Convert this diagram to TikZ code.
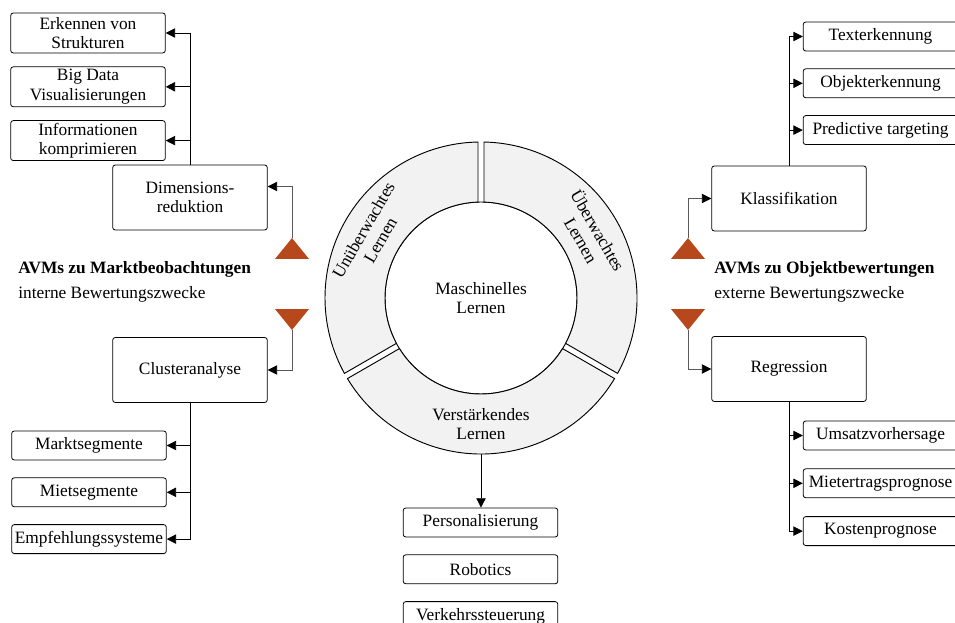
\documentclass[tikz,border=0pt]{standalone}
\usepackage{fontspec}
\setmainfont{Liberation Serif}
\usetikzlibrary{positioning}
\usetikzlibrary{arrows.meta}
\usetikzlibrary{calc}
\definecolor{avmorange}{RGB}{183,72,27}
\definecolor{ringgray}{RGB}{242,242,242}

\tikzset{
  box/.style={draw, rounded corners=2pt, line width=0.6pt, minimum width=116pt,
    inner xsep=1pt, inner ysep=0.5pt, align=center},
  bigbox/.style={box, minimum height=48.75pt},
  twobox/.style={box, minimum height=30pt},
  onebox/.style={box, minimum height=21.75pt},
  arr/.style={-{Triangle[length=7pt,width=7pt,color=black]}, line width=0.6pt},
  feed/.style={arr, draw=black!65},
  ring/.style={draw, fill=ringgray, line width=0.7pt},
  tri/.style={fill=avmorange},
}

\begin{document}
\begin{tikzpicture}[x=0.75pt, y=0.75pt, font=\fontsize{13}{14.5}\selectfont]
  \useasboundingbox (0,0) rectangle (955,-623);
  \def\rout{117pt}
  \def\rin{72pt}

  % Define nodes
  \node[circle, draw, line width=0.7pt, minimum size=144pt, align=center] (ml) at (481,-298) {Maschinelles\\Lernen};

  % ring parts with white gaps
  \foreach \a/\b in {90/210, 210/330, -30/90} {
    \draw[ring] ([shift={(ml.center)}]\a+1.1:\rout) arc[start angle=\a+1.1, end angle=\b-1.1, radius=\rout]
      -- ([shift={(ml.center)}]\b-1.8:\rin) arc[start angle=\b-1.8, end angle=\a+1.8, radius=\rin] -- cycle;
  }
  \node[rotate=60, align=center]  (unue) at ([shift={(ml.center)}]150:94.5pt) {Unüberwachtes\\Lernen};
  \node[rotate=-60, align=center] (uebe) at ([shift={(ml.center)}]30:94.5pt) {Überwachtes\\Lernen};
  \node[align=center]             (vers) at ([shift={(ml.center)}]270:94.5pt) {Verstärkendes\\Lernen};

  % left side
  \node[twobox]                     (erk)  at (88,-33) {Erkennen von\\Strukturen};
  \node[twobox, below=9.75pt of erk] (big)  {Big Data\\Visualisierungen};
  \node[twobox, below=9.75pt of big] (info) {Informationen\\komprimieren};
  \node[bigbox]                     (dim)  at (190,-197.5) {Dimensions-\\reduktion};
  \node[bigbox]                     (clu)  at (190,-370) {Clusteranalyse};
  \node[onebox]                     (mkt)  at (89,-445.5) {Marktsegmente};
  \node[onebox, below=12.75pt of mkt]  (miet) {Mietsegmente};
  \node[onebox, below=12.75pt of miet] (empf) {Empfehlungssysteme};

  \node[anchor=base west, inner sep=0pt] (avmm) at (18,-273) {\bfseries AVMs zu Marktbeobachtungen};
  \node[anchor=base west, inner sep=0pt] (intz) at (18,-298) {interne Bewertungszwecke};

  % right side
  \node[bigbox]                     (kla)  at (789,-198.5) {Klassifikation};
  \node[bigbox]                     (reg)  at (789,-369) {Regression};
  \node[onebox]                     (tex)  at (880.5,-36.5) {Texterkennung};
  \node[onebox, below=12.75pt of tex] (obj)  {Objekterkennung};
  \node[onebox, below=12.75pt of obj] (pred) {Predictive targeting};
  \node[onebox]                     (ums)  at (880.5,-435.5) {Umsatzvorhersage};
  \node[onebox, below=13.5pt of ums] (miete) {Mietertragsprognose};
  \node[onebox, below=13.5pt of miete] (kos) {Kostenprognose};

  \node[anchor=base west, inner sep=0pt] (avmo) at (714,-273) {\bfseries AVMs zu Objektbewertungen};
  \node[anchor=base west, inner sep=0pt] (extz) at (714,-298) {externe Bewertungszwecke};

  % bottom
  \node[onebox]                      (pers) at (480.5,-522.5) {Personalisierung};
  \node[onebox, below=12.75pt of pers] (rob)  {Robotics};
  \node[onebox, below=12.75pt of rob]  (verk) {Verkehrssteuerung};

  % triangles
  \coordinate (tul) at (292,-238);
  \coordinate (tdl) at (292,-330);
  \coordinate (tur) at (688,-238);
  \coordinate (tdr) at (688,-330);
  \foreach \t/\s in {tul/-21, tur/-21, tdl/21, tdr/21}
    \fill[tri] (\t) -- ++(-17,\s) -- ++(34,0) -- cycle;

  % Connect the nodes
  \draw[feed] (tul) |- ([yshift=8.25pt]dim.east);
  \draw[feed] (tdl) |- (clu.east);
  \draw[feed] (tur) |- (kla.west);
  \draw[feed] (tdr) |- (reg.west);

  \draw[arr] (dim.north) |- (erk.east);
  \foreach \n in {big,info}
    \draw[arr] (dim.north |- \n.east) -- (\n.east);
  \draw[arr] (clu.south) |- (empf.east);
  \foreach \n in {mkt,miet}
    \draw[arr] (clu.south |- \n.east) -- (\n.east);

  \draw[arr] (kla.north) |- (tex.west);
  \foreach \n in {obj,pred}
    \draw[arr] (kla.north |- \n.west) -- (\n.west);
  \draw[arr] (reg.south) |- (kos.west);
  \foreach \n in {ums,miete}
    \draw[arr] (reg.south |- \n.west) -- (\n.west);

  \coordinate (rb) at ([shift={(ml.center)}]270:\rout);
  \draw[arr] (rb) -- (rb |- pers.north);

\end{tikzpicture}
\end{document}
